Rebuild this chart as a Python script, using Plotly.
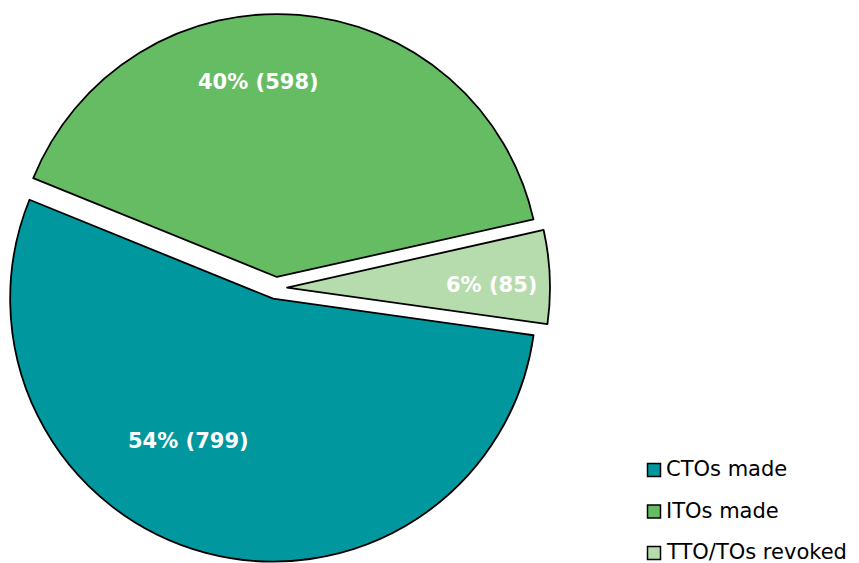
import plotly.graph_objects as go

# Orders by type, counts per category
labels = ["CTOs made", "ITOs made", "TTO/TOs revoked"]
values = [799, 598, 85]
colors = ["#00979F", "#66BC62", "#B6DCAD"]

W, H = 859, 563
total = sum(values)
label_text = [f"{round(100 * v / total)}% ({v})" for v in values]

fig = go.Figure(
    go.Pie(
        labels=labels,
        values=values,
        sort=False,
        direction="clockwise",
        rotation=98,
        pull=[0.042, 0.042, 0.042],
        marker=dict(colors=colors, line=dict(color="#000000", width=1.8)),
        textinfo="none",
        hoverinfo="label+value+percent",
        domain=dict(x=[2 / W, 550 / W], y=[1 - 562 / H, 1 - 14 / H]),
        showlegend=False,
    )
)

def px(x):
    return x / W

def py(y):
    return 1 - y / H

# Slice labels (pixel positions of the label centres)
label_pos = [(188, 441), (258, 82), (491, 285)]
annotations = []
for txt, (lx, ly) in zip(label_text, label_pos):
    annotations.append(dict(
        x=px(lx), y=py(ly), xref="paper", yref="paper",
        text=txt, showarrow=False, xanchor="center", yanchor="middle",
        font=dict(family="DejaVu Sans", size=21, color="white", weight="bold"),
    ))

# Legend drawn as squares + text, stacked at the lower right
shapes = []
leg_x, leg_y0, leg_dy, sq = 654, 470, 41.5, 13
for i, (name, col) in enumerate(zip(labels, colors)):
    cy = leg_y0 + i * leg_dy
    shapes.append(dict(
        type="rect", xref="paper", yref="paper",
        x0=px(leg_x - sq / 2), x1=px(leg_x + sq / 2),
        y0=py(cy + sq / 2), y1=py(cy - sq / 2),
        fillcolor=col, line=dict(color="#000000", width=1.5),
    ))
    annotations.append(dict(
        x=px(leg_x + 10), y=py(cy - 1), xref="paper", yref="paper",
        text=name, showarrow=False, xanchor="left", yanchor="middle",
        font=dict(family="DejaVu Sans", size=21, color="#000000"),
    ))

fig.update_layout(
    width=W, height=H,
    margin=dict(l=0, r=0, t=0, b=0),
    paper_bgcolor="white", plot_bgcolor="white",
    annotations=annotations, shapes=shapes,
)

fig.write_html("out.html")
